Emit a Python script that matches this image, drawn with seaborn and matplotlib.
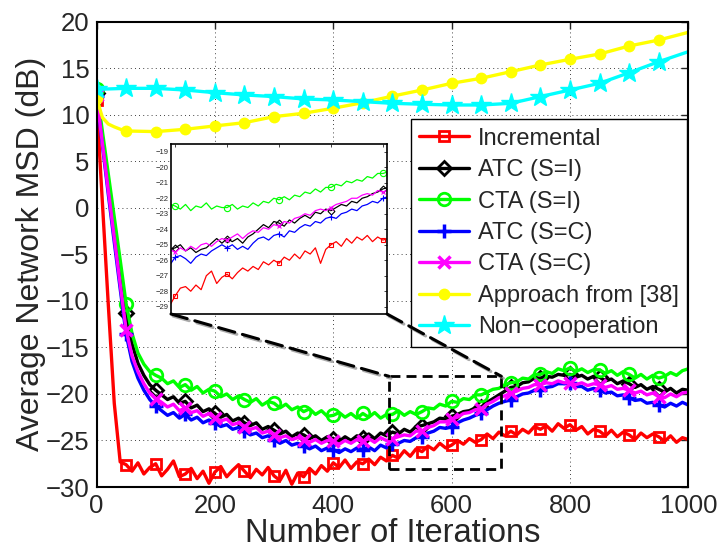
import matplotlib
matplotlib.use("Agg")
import matplotlib.pyplot as plt
import matplotlib.patheffects as pe
from matplotlib.patches import Rectangle, ConnectionPatch
import seaborn as sns

# ---------------- data: network MSD (dB) versus iteration ----------------
iters = list(range(0, 1001, 10))

incremental = [
    11.6, 0.5, -10.5, -21.0, -27.3, -27.6, -28.3, -27.4, -28.6, -27.9,
    -27.5, -28.8, -28.1, -27.2, -28.9, -28.6, -28.0, -29.1, -28.3, -29.6,
    -28.4, -27.8, -28.9, -28.2, -27.6, -28.3, -29.0, -28.1, -28.7, -27.9,
    -28.8, -29.3, -28.2, -29.7, -28.5, -28.9, -28.0, -28.6, -27.7, -28.3,
    -27.4, -27.9, -27.1, -28.0, -27.3, -27.5, -27.0, -27.6, -26.8, -27.2,
    -26.6, -26.9, -26.1, -26.7, -25.9, -26.2, -25.6, -26.0, -25.3, -25.8,
    -25.5, -25.0, -25.4, -24.8, -25.2, -24.9, -24.3, -24.8, -24.1, -24.5,
    -24.0, -24.4, -23.8, -24.2, -23.5, -23.8, -23.4, -24.0, -23.2, -23.7,
    -23.3, -23.9, -23.5, -24.3, -23.8, -24.0, -24.5, -23.9, -24.6, -24.1,
    -24.4, -24.9, -24.2, -24.7, -24.3, -24.6, -25.1, -24.5, -25.2, -24.7,
    -24.9,
]

atc_si = [
    12.3, 7.3, 2.6, -2.1, -6.7, -11.3, -14.6, -16.7, -18.0, -19.0,
    -19.6, -20.1, -20.6, -20.3, -21.0, -20.8, -21.5, -21.2, -21.9, -21.6,
    -22.1, -22.5, -22.2, -22.9, -22.6, -23.1, -23.4, -23.1, -23.8, -23.5,
    -23.9, -24.3, -24.0, -24.6, -24.2, -24.4, -24.8, -24.5, -25.0, -24.6,
    -24.8, -25.1, -24.6, -25.0, -24.5, -24.7, -24.3, -24.8, -24.2, -24.5,
    -24.1, -24.3, -23.8, -24.1, -23.5, -23.4, -23.2, -23.0, -22.6, -22.7,
    -22.4, -22.2, -21.9, -21.8, -21.5, -21.4, -20.9, -20.5, -20.1, -19.7,
    -19.3, -19.2, -18.8, -18.7, -18.3, -18.3, -18.1, -18.2, -17.9, -18.0,
    -17.9, -18.2, -18.0, -18.4, -18.1, -18.2, -18.6, -18.4, -18.9, -18.6,
    -18.9, -19.3, -19.0, -19.5, -19.2, -19.5, -19.8, -19.4, -19.9, -19.5,
    -19.6,
]

cta_si = [
    12.8, 8.2, 3.6, -1.0, -5.6, -10.3, -13.5, -15.6, -16.8, -17.6,
    -18.0, -18.3, -18.9, -18.6, -19.3, -19.0, -19.6, -19.2, -19.9, -19.5,
    -19.7, -20.3, -20.0, -20.6, -20.2, -20.6, -20.9, -20.5, -21.2, -20.8,
    -21.0, -21.5, -21.1, -21.7, -21.4, -21.9, -21.6, -22.2, -21.8, -22.4,
    -22.3, -22.0, -22.5, -22.1, -22.6, -22.1, -22.5, -22.0, -22.6, -22.2,
    -22.2, -21.8, -22.3, -21.9, -22.2, -21.9, -21.5, -21.6, -21.1, -21.3,
    -20.8, -20.9, -20.5, -20.6, -20.1, -20.1, -19.8, -19.5, -19.4, -19.0,
    -18.8, -18.7, -18.3, -18.4, -17.9, -17.9, -17.6, -17.8, -17.3, -17.5,
    -17.2, -17.6, -17.3, -17.7, -17.4, -17.4, -17.8, -17.5, -18.0, -17.6,
    -17.9, -18.3, -17.9, -18.4, -18.0, -18.3, -18.1, -17.7, -18.0, -17.5,
    -17.3,
]

atc_sc = [
    12.0, 6.7, 1.4, -3.7, -8.7, -13.6, -16.5, -18.3, -19.6, -20.6,
    -21.3, -21.8, -22.3, -22.0, -22.6, -22.2, -22.8, -22.5, -23.1, -22.8,
    -23.1, -23.5, -23.3, -23.8, -23.6, -24.0, -24.4, -24.2, -24.7, -24.5,
    -24.9, -25.3, -25.0, -25.5, -25.3, -25.6, -25.9, -25.6, -26.1, -25.8,
    -26.0, -26.3, -25.9, -26.2, -25.8, -26.0, -25.7, -26.1, -25.5, -25.8,
    -25.4, -25.3, -25.0, -25.1, -24.7, -24.6, -24.2, -24.0, -23.6, -23.7,
    -23.5, -23.1, -22.8, -22.6, -22.3, -22.1, -21.7, -21.3, -21.0, -20.8,
    -20.6, -20.3, -20.0, -19.9, -19.6, -19.6, -19.3, -19.2, -18.9, -18.9,
    -18.8, -19.2, -19.2, -19.6, -19.4, -19.6, -19.9, -19.8, -20.2, -20.1,
    -20.4, -20.7, -20.6, -21.0, -20.9, -21.2, -21.4, -21.0, -21.3, -20.9,
    -21.2,
]

cta_sc = [
    12.1, 6.9, 1.8, -3.2, -8.2, -13.1, -15.9, -17.6, -18.9, -19.9,
    -20.5, -20.9, -21.4, -21.1, -21.8, -21.5, -22.0, -21.8, -22.4, -22.1,
    -22.6, -22.9, -22.7, -23.3, -23.1, -23.5, -23.8, -23.6, -24.2, -24.0,
    -24.4, -24.7, -24.5, -24.9, -24.7, -24.9, -25.2, -24.9, -25.3, -25.0,
    -25.1, -25.4, -25.0, -25.3, -24.9, -25.1, -24.8, -25.2, -24.7, -25.0,
    -24.8, -24.6, -24.4, -24.5, -24.0, -24.0, -23.6, -23.4, -23.0, -23.0,
    -22.7, -22.5, -22.1, -22.0, -21.7, -21.6, -21.1, -20.8, -20.4, -20.2,
    -19.9, -19.7, -19.4, -19.3, -19.0, -19.0, -18.8, -18.9, -18.6, -18.8,
    -18.8, -19.0, -18.8, -19.1, -18.9, -19.0, -19.3, -19.1, -19.5, -19.4,
    -19.6, -19.9, -19.7, -20.1, -19.9, -20.3, -20.4, -20.0, -20.3, -19.9,
    -19.8,
]

approach_iters = [0, 10, 20, 30, 40, 50, 100, 150, 200, 250, 300, 350, 400,
                  450, 500, 550, 600, 650, 700, 750, 800, 850, 900, 950, 1000]
approach38 = [11.8, 9.7, 9.0, 8.7, 8.45, 8.26, 8.19, 8.44, 8.80, 9.15, 9.80,
              10.16, 10.70, 11.30, 12.00, 12.66, 13.38, 13.92, 14.63, 15.35,
              15.96, 16.53, 17.39, 18.03, 18.86]

noncoop_iters = list(range(0, 1001, 50))
noncoop = [12.73, 12.84, 12.84, 12.66, 12.37, 12.13, 11.95, 11.70, 11.59,
           11.41, 11.23, 11.13, 11.05, 11.05, 11.23, 11.95, 12.66, 13.38,
           14.52, 15.70, 16.78]

# detail window (iterations 495-705)
zoom_iters = list(range(495, 706, 5))
zoom_incremental = [
    -28.9, -28.3, -27.8, -27.7, -28.0, -27.6, -27.9, -27.0, -26.7, -27.5,
    -27.1, -26.9, -27.2, -26.8, -26.5, -26.7, -26.4, -26.6, -26.1, -26.3,
    -26.0, -26.2, -25.8, -26.0, -25.6, -25.9, -25.4, -25.6, -25.2, -26.2,
    -25.3, -25.0, -24.8, -25.1, -24.6, -24.9, -24.5, -24.7, -24.4, -24.8,
    -24.5, -24.7, -24.6,
]
zoom_atc_si = [
    -25.3, -25.2, -25.0, -25.4, -25.2, -25.5, -25.3, -25.2, -24.9, -24.6,
    -24.9, -24.6, -24.8, -24.6, -24.9, -24.5, -24.3, -24.0, -23.7, -23.9,
    -23.5, -23.6, -23.8, -23.4, -23.6, -23.3, -23.1, -23.3, -22.9, -23.0,
    -22.7, -22.8, -22.6, -22.4, -22.5, -22.2, -22.3, -22.0, -21.9, -21.7,
    -21.6, -21.4, -21.3,
]
zoom_cta_si = [
    -22.4, -22.5, -22.7, -22.4, -22.8, -22.5, -22.6, -22.3, -22.7, -22.5,
    -22.6, -22.6, -22.4, -22.7, -22.5, -22.6, -22.3, -22.5, -22.2, -22.3,
    -22.0, -22.1, -21.9, -22.1, -21.8, -21.9, -21.6, -21.7, -21.4, -21.6,
    -21.3, -21.3, -21.1, -21.2, -20.9, -21.0, -20.8, -20.9, -20.6, -20.7,
    -20.4, -20.4, -20.3,
]
zoom_atc_sc = [
    -26.3, -25.8, -25.7, -25.9, -26.2, -25.8, -25.6, -25.7, -25.4, -25.2,
    -25.0, -25.2, -25.0, -25.3, -25.1, -25.3, -24.9, -24.6, -24.5, -24.7,
    -24.4, -24.3, -24.5, -24.1, -24.2, -23.9, -23.7, -23.8, -23.5, -23.6,
    -23.3, -23.2, -23.3, -23.0, -22.9, -22.7, -22.8, -22.5, -22.4, -22.2,
    -22.3, -22.0, -21.9,
]
zoom_cta_sc = [
    -25.3, -25.5, -25.2, -25.4, -25.1, -25.3, -25.0, -24.9, -25.1, -24.8,
    -24.6, -24.7, -24.5, -24.3, -24.6, -24.3, -24.1, -24.2, -23.9, -24.0,
    -23.7, -23.8, -23.5, -23.6, -23.3, -23.2, -23.0, -23.1, -22.8, -22.7,
    -22.8, -22.6, -22.4, -22.3, -22.2, -22.0, -22.0, -21.8, -21.7, -21.8,
    -21.5, -21.6, -21.5,
]

labels = ["Incremental", "ATC (S=I)", "CTA (S=I)", "ATC (S=C)", "CTA (S=C)",
          "Approach from [38]", "Non\u2212cooperation"]

# ---------------- style ----------------
sns.set_style("white")
plt.rcParams["font.family"] = ["Liberation Sans", "DejaVu Sans"]
plt.rcParams["axes.unicode_minus"] = True

fig = plt.figure(figsize=(7.17, 5.48), dpi=100)
ax = fig.add_axes([0.1346, 0.1113, 0.8254, 0.8491])

every50 = list(range(0, 100, 5))
styles = [
    (incremental, "#ff0000", dict(marker="s", ms=7, mfc="none", mew=2.0)),
    (atc_si, "#000000", dict(marker="D", ms=7, mfc="none", mew=2.0)),
    (cta_si, "#00ff00", dict(marker="o", ms=9, mfc="none", mew=2.0)),
    (atc_sc, "#0000ff", dict(marker="+", ms=10, mew=2.5)),
    (cta_sc, "#ff00ff", dict(marker="x", ms=8, mew=2.5)),
]
handles = []
for vals, color, mk in styles:
    sns.lineplot(x=iters, y=vals, ax=ax, color=color, lw=2.4, estimator=None,
                 sort=False, legend=False, markevery=every50, mec=color, **mk)
    handles.append(ax.lines[-1])

yellow_marks = [0] + list(range(5, len(approach_iters) - 1))
sns.lineplot(x=approach_iters, y=approach38, ax=ax, color="#ffff00", lw=2.4,
             estimator=None, sort=False, legend=False, marker="o", ms=7,
             mfc="#ffff00", mec="#ffff00", mew=1.5, markevery=yellow_marks)
handles.append(ax.lines[-1])

sns.lineplot(x=noncoop_iters, y=noncoop, ax=ax, color="#00ffff", lw=2.4,
             estimator=None, sort=False, legend=False, marker="*", ms=15,
             mfc="#00ffff", mec="#00ffff", mew=1.0,
             markevery=list(range(0, len(noncoop_iters) - 1)))
handles.append(ax.lines[-1])

ax.set_xlim(0, 1000)
ax.set_ylim(-30, 20)
ax.set_xticks(range(0, 1001, 200))
ax.set_yticks(range(-30, 21, 5))
ax.tick_params(direction="in", length=5, width=1, top=True, right=True,
               labelsize=18.5, pad=5)
ax.grid(True, ls=(0, (1, 4)), color="k", lw=0.6)
for sp in ax.spines.values():
    sp.set_linewidth(1.5)
    sp.set_color("k")
ax.set_xlabel("Number of Iterations", fontsize=23.5, labelpad=0)
ax.set_ylabel("Average Network MSD (dB)", fontsize=23, labelpad=0)

leg = ax.legend(handles, labels, loc="upper right", bbox_to_anchor=(0.998, 0.79),
                fontsize=17, frameon=True, fancybox=False, edgecolor="k",
                framealpha=1, borderaxespad=0, handlelength=2.1,
                handletextpad=0.4, labelspacing=0.40, borderpad=0.35)
leg.get_frame().set_linewidth(1.0)

# dashed box marking the detail window
shadow = [pe.SimpleLineShadow(offset=(1.5, -1.5), shadow_color="0.45", alpha=0.6),
          pe.Normal()]
box = Rectangle((494, -28.1), 190, 10.0, fill=False, ec="k", lw=2.0,
                ls=(0, (3.6, 2.2)), zorder=5)
ax.add_patch(box)

# inset with the detail window
ins = fig.add_axes([0.2385, 0.4270, 0.3013, 0.3102])
ins.set_facecolor("white")
zoom_styles = [
    (zoom_cta_si, "#00ff00", dict(marker="o", ms=4.5, mfc="none", mew=0.8)),
    (zoom_atc_si, "#000000", dict(marker="D", ms=3.5, mfc="none", mew=0.8)),
    (zoom_cta_sc, "#ff00ff", dict(marker="x", ms=3.5, mew=0.8)),
    (zoom_atc_sc, "#0000ff", dict(marker="+", ms=4, mew=0.8)),
    (zoom_incremental, "#ff0000", dict(marker="s", ms=3.5, mfc="none", mew=0.8)),
]
for vals, color, mk in zoom_styles:
    sns.lineplot(x=zoom_iters, y=vals, ax=ins, color=color, lw=0.9,
                 estimator=None, sort=False, legend=False,
                 markevery=[1, 11, 21, 31, 41], mec=color, **mk)
ins.set_xlim(496, 704)
ins.set_ylim(-29.47, -18.5)
ins.set_xticks([500, 550, 600, 650, 700])
ins.set_xticklabels([])
ins.set_yticks(range(-29, -18))
ins.set_xlabel("")
ins.set_ylabel("")
ins.tick_params(direction="in", length=2.5, width=0.6, top=True, right=True,
                labelsize=5.5, pad=2)
for sp in ins.spines.values():
    sp.set_linewidth(1.2)
    sp.set_color("k")

for xa, xb in [((0, 0), (494, -18.1)), ((1, 0), (684, -18.1))]:
    con = ConnectionPatch(xyA=xa, coordsA=ins.transAxes, xyB=xb,
                          coordsB=ax.transData, color="k", lw=2.2,
                          ls=(0, (5.5, 2.6)), zorder=6)
    con.set_path_effects(shadow)
    fig.add_artist(con)

fig.savefig("out.png", dpi=100)
